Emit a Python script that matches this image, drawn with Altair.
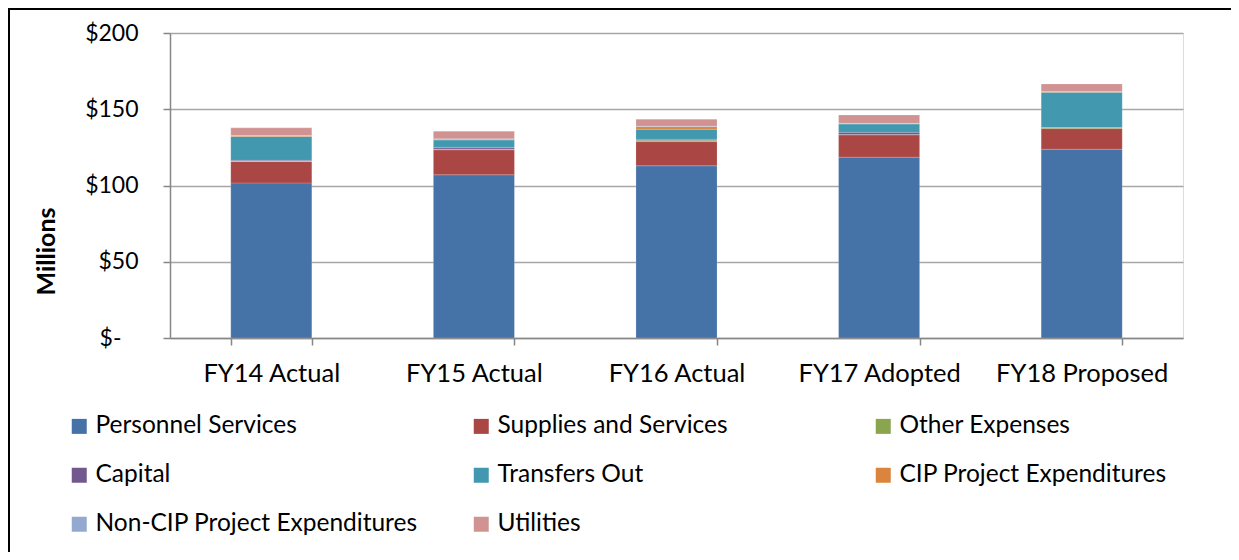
import altair as alt
import pandas as pd

years = ["FY14 Actual", "FY15 Actual", "FY16 Actual", "FY17 Adopted", "FY18 Proposed"]
series = ["Personnel Services", "Supplies and Services", "Other Expenses", "Capital",
          "Transfers Out", "CIP Project Expenditures", "Non-CIP Project Expenditures", "Utilities"]
colors = ["#4572A7", "#AA4643", "#89A54E", "#71588F", "#4198AF", "#DB843D", "#93A9CF", "#D19392"]

personnel = [101.7, 107.0, 112.9, 118.6, 123.8]
supplies = [14.0, 16.4, 15.9, 14.6, 13.5]
other = [0.3, 0.6, 0.8, 0.2, 0.8]
capital = [0.5, 1.0, 0.7, 1.5, 0.0]
transfers = [15.6, 4.8, 6.6, 5.4, 23.0]
cip = [0.5, 0.5, 1.7, 0.3, 0.3]
noncip = [0.2, 0.3, 0.3, 0.2, 0.3]
utilities = [5.0, 5.0, 4.6, 5.4, 4.9]

values = [personnel, supplies, other, capital, transfers, cip, noncip, utilities]
rows = []
for si, (s, vals) in enumerate(zip(series, values)):
    for y, v in zip(years, vals):
        rows.append({"year": y, "series": s, "value": v, "idx": si})
df = pd.DataFrame(rows)

FONT = "Lato"

bars = alt.Chart(df).mark_bar(stroke="white", strokeOpacity=0.35, strokeWidth=0.5).encode(
    x=alt.X("year:N", sort=years, title=None,
            scale=alt.Scale(paddingInner=0.6, paddingOuter=0.3),
            axis=alt.Axis(tickBand="extent", labelAngle=0, labelFontSize=25.5, labelFont=FONT,
                          labelColor="black", labelPadding=16, tickSize=7, tickColor="#868686",
                          domainColor="#868686", domainWidth=1.5, tickWidth=1.5, grid=False)),
    y=alt.Y("value:Q", title="Millions", stack="zero",
            scale=alt.Scale(domain=[0, 200], nice=False),
            axis=alt.Axis(values=[0, 50, 100, 150, 200],
                          labelExpr="datum.value == 0 ? '$-' : '$' + datum.value",
                          labelFontSize=23, labelFont=FONT, labelColor="black",
                          labelPadding={"condition": {"test": "datum.value === 0", "value": 42},
                                        "value": 25},
                          tickSize=7, tickColor="#868686", tickWidth=1.5,
                          domainColor="#868686", domainWidth=1.5,
                          gridColor="#A6A6A6", gridWidth=1.5,
                          titleFont=FONT, titleFontSize=25, titleFontWeight="bold", titleColor="black",
                          titleX=-124, titleY=218, titleAngle=270, titleAlign="center",
                          titleBaseline="middle")),
    color=alt.Color("series:N", sort=series,
                    scale=alt.Scale(domain=series, range=colors),
                    legend=alt.Legend(title=None, orient="none", legendX=-103, legendY=381,
                                      columns=3, direction="horizontal", gridAlign="all",
                                      symbolType="square", symbolSize=225, symbolStrokeWidth=0,
                                      symbolOpacity=1, labelFont=FONT, labelFontSize=24.5,
                                      labelColor="black", labelOffset=4, columnPadding=51,
                                      rowPadding=24, labelLimit=400)),
    order=alt.Order("idx:Q", sort="ascending"),
)

frame = alt.Chart(pd.DataFrame({"a": [0]})).mark_rect(
    fill=None, stroke="black", strokeWidth=2
).encode(
    x=alt.value(-161), x2=alt.value(1200), y=alt.value(-24), y2=alt.value(600)
)

chart = alt.layer(bars, frame).properties(
    width=1013, height=305,
    autosize=alt.AutoSizeParams(type="none"),
    padding={"left": 162, "top": 25, "right": 48, "bottom": 214},
).configure_view(stroke=None).configure(background="white")

chart.save("out.html", embed_options={"renderer": "svg", "actions": False})
